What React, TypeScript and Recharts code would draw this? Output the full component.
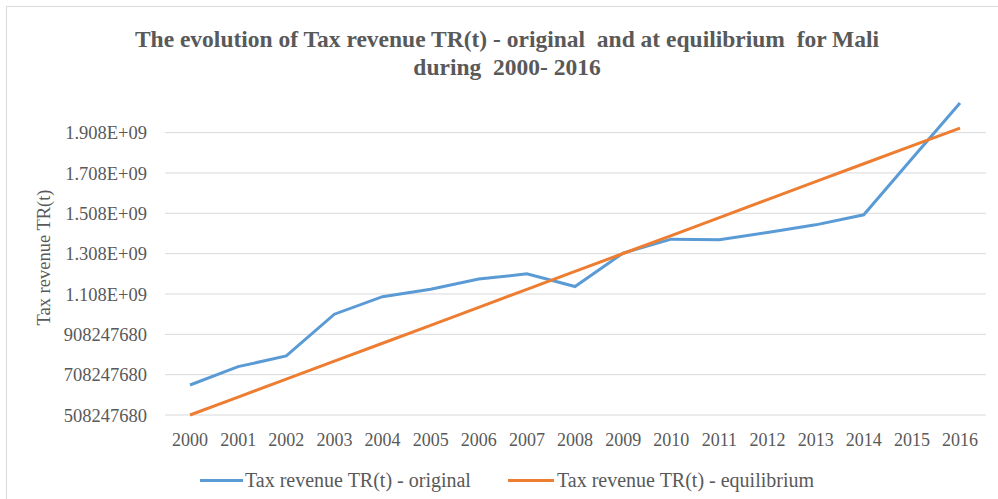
import { LineChart, Line, XAxis, YAxis, CartesianGrid } from 'recharts';

const years = ['2000', '2001', '2002', '2003', '2004', '2005', '2006', '2007', '2008', '2009', '2010', '2011', '2012', '2013', '2014', '2015', '2016'];

const original = [
  657000000, 748000000, 801000000, 1008000000, 1095000000, 1132000000, 1182000000, 1208000000, 1145000000,
  1311000000, 1380000000, 1377000000, 1413000000, 1451000000, 1501000000, 1779000000, 2055000000,
];

const equilibrium = [
  508247680, 597000000, 686000000, 775000000, 864000000, 953000000, 1042000000, 1131000000, 1220000000,
  1309000000, 1398000000, 1487000000, 1576000000, 1665000000, 1754000000, 1843000000, 1931000000,
];

const yTicks = [508247680, 708247680, 908247680, 1108247680, 1308247680, 1508247680, 1708247680, 1908247680];
const yDomain: [number, number] = [508247680, 2070000000];

const data = years.map((y, i) => ({ year: y, original: original[i], equilibrium: equilibrium[i] }));

const FONT = '"Liberation Serif", "Times New Roman", serif';
const GREY = '#595959';
const BLUE = '#5b9bd5';
const ORANGE = '#ed7d31';

const fmt = (v: number) => (v >= 1e9 ? (v / 1e9).toFixed(3) + 'E+09' : String(v));

// grid rows only at the y ticks (no line along the plot top)
const gridRows = ({ offset }: any) =>
  yTicks.map((t) => offset.top + (offset.height * (yDomain[1] - t)) / (yDomain[1] - yDomain[0]));

export default function App() {
  return (
    <div style={{ position: 'absolute', left: 0, top: 0, width: 998, height: 499, background: '#fff', overflow: 'hidden', fontFamily: FONT }}>
      <div style={{ position: 'absolute', left: 6, top: 6, width: 1000, height: 500, borderTop: '1px solid #d9d9d9', borderLeft: '1px solid #d9d9d9' }} />
      <div style={{ position: 'absolute', left: 8, top: 25, width: 998, textAlign: 'center', fontWeight: 'bold', fontSize: 23.5, lineHeight: '28px', color: GREY, whiteSpace: 'pre' }}>
        {'The evolution of Tax revenue TR(t) - original  and at equilibrium  for Mali\nduring  2000- 2016'}
      </div>
      <LineChart width={998} height={499} data={data} margin={{ top: 100, right: 12, bottom: 54, left: 0 }} style={{ position: 'absolute', left: 0, top: 0 }}>
        <CartesianGrid vertical={false} stroke="#d9d9d9" strokeWidth={1} horizontalCoordinatesGenerator={gridRows} />
        <XAxis
          dataKey="year"
          padding={{ left: 25, right: 26 }}
          axisLine={false}
          tickLine={false}
          tickSize={0}
          tickMargin={18}
          interval={0}
          tick={{ fill: GREY, fontSize: 18, fontFamily: FONT }}
        />
        <YAxis
          width={165}
          domain={yDomain}
          ticks={yTicks}
          tickFormatter={fmt}
          axisLine={false}
          tickLine={false}
          tickSize={0}
          tickMargin={18}
          tick={{ fill: GREY, fontSize: 18.5, fontFamily: FONT }}
          label={{ value: 'Tax revenue TR(t)', angle: -90, position: 'insideLeft', offset: 43, style: { textAnchor: 'middle', fill: GREY, fontSize: 18.5, fontFamily: FONT } }}
        />
        <Line type="linear" dataKey="original" stroke={BLUE} strokeWidth={3} dot={false} isAnimationActive={false} />
        <Line type="linear" dataKey="equilibrium" stroke={ORANGE} strokeWidth={3} dot={false} isAnimationActive={false} />
      </LineChart>
      <div style={{ position: 'absolute', top: 468, left: 0, width: 998, height: 24, fontSize: 20, lineHeight: '24px', color: GREY }}>
        <span style={{ position: 'absolute', left: 200, top: 11, width: 43, height: 3, background: BLUE }} />
        <span style={{ position: 'absolute', left: 245, top: 0, whiteSpace: 'nowrap' }}>Tax revenue TR(t) - original</span>
        <span style={{ position: 'absolute', left: 508, top: 11, width: 46, height: 3, background: ORANGE }} />
        <span style={{ position: 'absolute', left: 557, top: 0, whiteSpace: 'nowrap' }}>Tax revenue TR(t) - equilibrium</span>
      </div>
    </div>
  );
}
